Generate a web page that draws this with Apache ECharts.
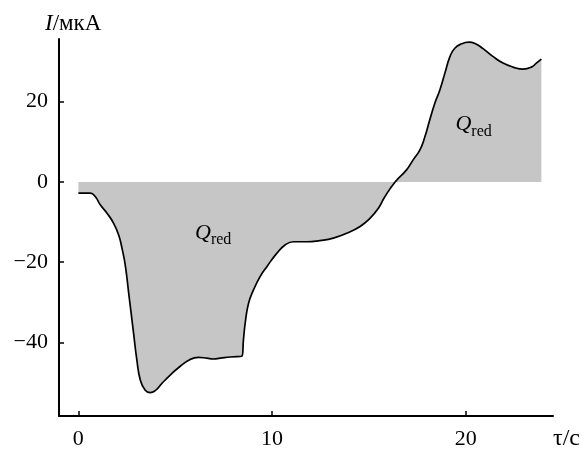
<!DOCTYPE html>
<html>
<head>
<meta charset="utf-8">
<script src="https://cdn.jsdelivr.net/npm/echarts@6/dist/echarts.min.js"></script>
<style>
html,body{margin:0;padding:0;background:#fff;}
#chart{width:586px;height:450px;}
</style>
</head>
<body>
<div id="chart"></div>
<script>
var time = [0, 0.62, 0.88, 1.13, 1.48, 1.82, 2.08, 2.25, 2.42, 2.6, 2.85, 3.02, 3.2, 3.45, 3.71, 3.97, 4.31, 4.74, 5.26, 5.77, 6.2, 6.63, 6.97, 7.32, 7.84, 8.44, 8.52, 8.61, 8.78, 9.04, 9.38, 9.73, 10.24, 10.67, 11.1, 11.79, 12.47, 13.16, 13.85, 14.54, 15.05, 15.48, 15.82, 16.35, 16.94, 17.28, 17.63, 17.89, 18.14, 18.4, 18.66, 18.92, 19.18, 19.43, 19.78, 20.15, 20.5, 20.89, 21.41, 21.92, 22.44, 22.95, 23.39, 23.64, 23.9];
var current = [-2.8, -2.8, -3.7, -5.7, -7.8, -10.3, -13.2, -16.5, -20.7, -27.8, -37.7, -44.4, -49.4, -51.9, -52.5, -52.0, -50.2, -48.1, -45.9, -44.2, -43.7, -43.9, -44.1, -43.9, -43.6, -43.4, -39.4, -35.2, -30.3, -26.9, -23.6, -21.1, -17.8, -15.7, -14.9, -14.9, -14.6, -14.0, -12.8, -11.1, -9.1, -6.6, -3.7, 0.0, 3.0, 5.5, 8.0, 11.3, 15.5, 19.6, 22.9, 27.1, 31.2, 33.3, 34.4, 34.8, 34.4, 33.2, 31.2, 29.6, 28.6, 28.1, 28.6, 29.6, 30.6];
var xTicks = [0, 10, 20];
var yTicks = [-40, -20, 0, 20];
var labelPositions = [[6.96, -12.5], [20.4, 14.5]];
var yTitle = 'I/мкА';
var xTitle = 'τ/c';

var serif = '"Liberation Serif", "DejaVu Serif", serif';
var data = time.map(function (t, i) { return [t, current[i]]; });

var chart = echarts.init(document.getElementById('chart'), null, {renderer: 'canvas'});
var qLabel = {
  show: true,
  position: 'inside',
  formatter: '{q|Q}{r|red}',
  rich: {
    q: {fontFamily: serif, fontStyle: 'italic', fontSize: 22, color: '#000', lineHeight: 24, verticalAlign: 'bottom'},
    r: {fontFamily: serif, fontSize: 16, color: '#000', lineHeight: 24, verticalAlign: 'bottom', padding: [0, 0, -4, 0]}
  }
};
chart.setOption({
  animation: false,
  backgroundColor: '#fff',
  grid: {left: 59, right: 33, top: 39, bottom: 34, containLabel: false},
  xAxis: {
    type: 'value',
    min: -1,
    max: 24.5,
    axisLine: {show: true, onZero: false, lineStyle: {color: '#000', width: 2}},
    axisTick: {show: true, inside: true, length: 5, customValues: xTicks, lineStyle: {color: '#000', width: 1.5}},
    axisLabel: {show: true, customValues: xTicks, margin: 12, color: '#000', fontFamily: serif, fontSize: 22,
      formatter: function (v) { return String(v).replace('-', '\u2212'); }},
    splitLine: {show: false}
  },
  yAxis: {
    type: 'value',
    min: -58.3,
    max: 35.6,
    axisLine: {show: true, onZero: false, lineStyle: {color: '#000', width: 2}},
    axisTick: {show: true, inside: true, length: 5, customValues: yTicks, lineStyle: {color: '#000', width: 1.5}},
    axisLabel: {show: true, customValues: yTicks, margin: 11, color: '#000', fontFamily: serif, fontSize: 22,
      formatter: function (v) { return String(v).replace('-', '\u2212'); }},
    splitLine: {show: false}
  },
  series: [{
    type: 'line',
    data: data,
    showSymbol: false,
    smooth: 0.5,
    lineStyle: {color: '#000', width: 1.7},
    areaStyle: {color: '#c6c6c6', opacity: 1, origin: 0},
    z: 2,
    markPoint: {
      symbol: 'circle',
      symbolSize: 1,
      itemStyle: {color: 'rgba(0,0,0,0)'},
      label: qLabel,
      data: labelPositions.map(function (p) { return {coord: p}; })
    }
  }],
  graphic: [
    {type: 'text', left: 45, top: 12, style: {
      text: '{i|I}{n|/мкА}',
      rich: {
        i: {fontFamily: serif, fontStyle: 'italic', fontSize: 23, fill: '#000'},
        n: {fontFamily: serif, fontSize: 23, fill: '#000'}
      }
    }},
    {type: 'text', left: 553, top: 427, style: {text: xTitle, fontFamily: serif, fontSize: 24, fill: '#000'}}
  ]
});
</script>
</body>
</html>
